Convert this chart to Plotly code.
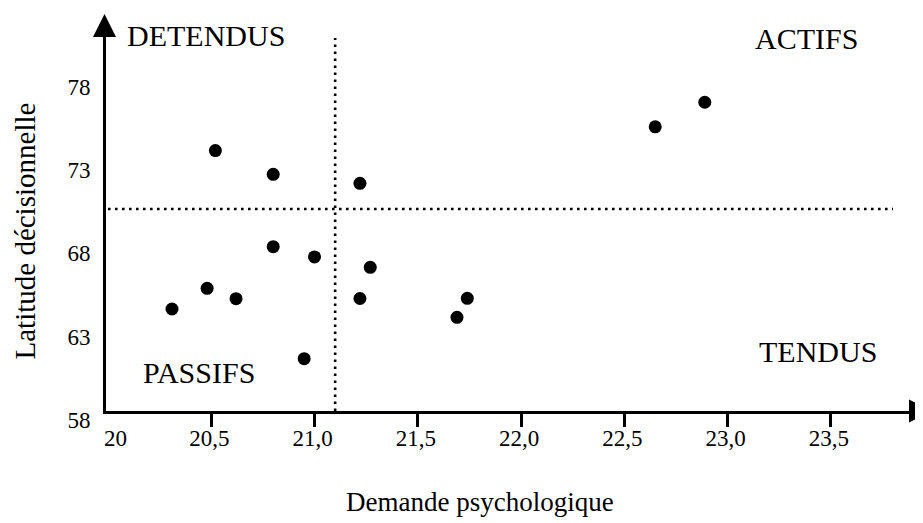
import plotly.graph_objects as go

# ---- data ----
demande = [20.52, 20.80, 21.22, 20.80, 21.00, 21.27, 20.48, 20.62, 21.22,
           20.31, 20.95, 21.74, 21.69, 22.65, 22.89]
latitude = [73.62, 72.20, 71.66, 67.86, 67.24, 66.62, 65.36, 64.74, 64.75,
            64.12, 61.14, 64.76, 63.62, 75.05, 76.52]

x_tickvals = [20.5, 21.0, 21.5, 22.0, 22.5, 23.0, 23.5]
x_ticktext = ["20,5", "21,0", "21,5", "22,0", "22,5", "23,0", "23,5"]
y_tickvals = [58, 63, 68, 73, 78]
y_ticktext = ["58", "63", "68", "73", "78"]

seuil_demande = 21.10     # vertical dotted separator
seuil_latitude = 70.12    # horizontal dotted separator

quadrants = ["DETENDUS", "ACTIFS", "PASSIFS", "TENDUS"]

# ---- layout geometry (page pixels) ----
PAGE_W, PAGE_H = 923, 523
OFF = 8                      # default body margin of the html page
W, H = PAGE_W - OFF, PAGE_H - OFF
L, R, T, B = 106, 910, 30, 411
PXX, X20 = 206.5, 108.0     # px per unit x, pixel of x=20
PXY, Y58 = 16.67, 411.0     # px per unit y, pixel of y=58

x_range = [20 + (L - X20) / PXX, 20 + (R - X20) / PXX]
y_range = [58 + (Y58 - B) / PXY, 58 + (Y58 - T) / PXY]


def px(xp):
    return (xp - L) / (R - L)


def py(yp):
    return (B - yp) / (B - T)


FONT = "Liberation Serif, Times New Roman, serif"

fig = go.Figure()
fig.add_trace(go.Scatter(
    x=demande, y=latitude, mode="markers",
    marker=dict(color="black", size=13, line=dict(width=0)),
    showlegend=False, hoverinfo="x+y"))

dots = dict(color="black", width=2.6, dash="2.6px,4.4px")
fig.add_shape(type="line", xref="x", yref="y",
              x0=seuil_demande, x1=seuil_demande,
              y0=y_range[0], y1=58 + (Y58 - 38) / PXY, line=dots)
fig.add_shape(type="line", xref="x", yref="y",
              x0=20.0, x1=20 + (893 - X20) / PXX,
              y0=seuil_latitude, y1=seuil_latitude, line=dots)

# arrow heads
fig.add_shape(type="path", xref="paper", yref="paper",
              xsizemode="pixel", ysizemode="pixel", xanchor=1, yanchor=0,
              path="M -1,11.5 L 22,0 L -1,-11.5 Z",
              fillcolor="black", line=dict(width=0))
fig.add_shape(type="path", xref="paper", yref="paper",
              xsizemode="pixel", ysizemode="pixel", xanchor=0, yanchor=1,
              path="M -13,-7 L -1.5,16 L 10,-7 Z",
              fillcolor="black", line=dict(width=0))

qpos = [(206, 36), (806.5, 39), (198.7, 372), (818, 351)]
for txt, (xp, yp) in zip(quadrants, qpos):
    fig.add_annotation(text=txt, xref="paper", yref="paper", x=px(xp), y=py(yp),
                       xanchor="center", yanchor="middle", showarrow=False,
                       font=dict(family=FONT, size=30, color="black"))

# axis titles
fig.add_annotation(text="Demande psychologique", xref="paper", yref="paper",
                   x=px(479.5), y=py(502), xanchor="center", yanchor="middle",
                   showarrow=False, font=dict(family=FONT, size=27, color="black"))
fig.add_annotation(text="Latitude décisionnelle", xref="paper", yref="paper",
                   x=px(24), y=py(231.5), xanchor="center", yanchor="middle",
                   textangle=-90, showarrow=False,
                   font=dict(family=FONT, size=29, color="black"))
# "20" label at origin (no tick mark there)
fig.add_annotation(text="20", xref="paper", yref="paper",
                   x=px(115), y=py(438), xanchor="center", yanchor="middle",
                   showarrow=False, font=dict(family=FONT, size=23, color="black"))

fig.update_layout(
    width=W, height=H,
    margin=dict(l=L - OFF, r=PAGE_W - R, t=T - OFF, b=PAGE_H - B, pad=0),
    paper_bgcolor="white", plot_bgcolor="white",
    font=dict(family=FONT, color="black"),
    xaxis=dict(range=x_range, showgrid=False, zeroline=False,
               showline=True, linewidth=3, linecolor="black",
               tickvals=x_tickvals, ticktext=x_ticktext,
               ticks="outside", ticklen=13, tickwidth=2.5, tickcolor="black",
               tickfont=dict(family=FONT, size=23, color="black"),
               ticklabelshift=-2, ticklabelstandoff=-9),
    yaxis=dict(range=y_range, showgrid=False, zeroline=False,
               showline=True, linewidth=3, linecolor="black",
               tickvals=y_tickvals, ticktext=y_ticktext, ticks="",
               tickfont=dict(family=FONT, size=23, color="black"),
               ticklabelshift=9, ticklabelstandoff=8),
)

fig.write_html("out.html")
